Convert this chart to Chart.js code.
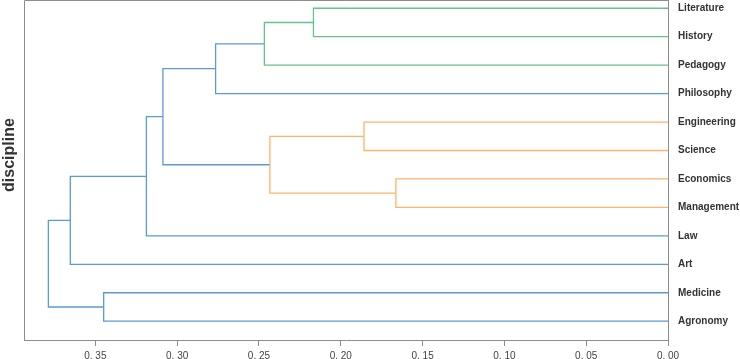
<!DOCTYPE html>
<html>
<head>
<meta charset="utf-8">
<script src="https://cdn.jsdelivr.net/npm/chart.js@4"></script>
<style>
html,body{margin:0;padding:0;background:#fff;}
#wrap{width:740px;height:359px;}
</style>
</head>
<body>
<div id="wrap"><canvas id="c" width="740" height="359"></canvas></div>
<script>
// Leaves, top to bottom
const leaves = ["Literature","History","Pedagogy","Philosophy","Engineering","Science","Economics","Management","Law","Art","Medicine","Agronomy"];
// Link positions along the leaf axis (scipy-style icoord, in leaf index units)
const icoord = [
  [0, 0, 1, 1],
  [0.5, 0.5, 2, 2],
  [1.25, 1.25, 3, 3],
  [4, 4, 5, 5],
  [6, 6, 7, 7],
  [4.5, 4.5, 6.5, 6.5],
  [2.125, 2.125, 5.5, 5.5],
  [3.8125, 3.8125, 8, 8],
  [5.90625, 5.90625, 9, 9],
  [10, 10, 11, 11],
  [7.453125, 7.453125, 10.5, 10.5]
];
// Link heights (distance)
const dcoord = [
  [0, 0.2167, 0.2167, 0],
  [0.2167, 0.2467, 0.2467, 0],
  [0.2467, 0.2765, 0.2765, 0],
  [0, 0.1858, 0.1858, 0],
  [0, 0.1663, 0.1663, 0],
  [0.1858, 0.2433, 0.2433, 0.1663],
  [0.2765, 0.3087, 0.3087, 0.2433],
  [0.3087, 0.3188, 0.3188, 0],
  [0.3188, 0.3653, 0.3653, 0],
  [0, 0.3449, 0.3449, 0],
  [0.3653, 0.3787, 0.3787, 0.3449]
];
const linkColors = ["green","green","blue","orange","orange","orange","blue","blue","blue","blue","blue"];
const xTicks = [0, 0.05, 0.10, 0.15, 0.20, 0.25, 0.30, 0.35];
const yTitle = "discipline";

const palette = {green: "#66c28c", orange: "#ffb466", blue: "#5b9bd5"};
const FONT = "'Liberation Sans', Arial, Helvetica, sans-serif";

const datasets = icoord.map((ys, i) => ({
  data: ys.map((y, j) => ({x: dcoord[i][j], y: y})),
  showLine: true,
  borderColor: palette[linkColors[i]],
  borderWidth: 1.3,
  pointRadius: 0,
  fill: false,
  tension: 0,
  clip: false,
  yAxisID: 'y'
}));

const framePlugin = {
  id: 'frame',
  afterDraw(chart) {
    const {ctx, chartArea: a} = chart;
    ctx.save();
    ctx.strokeStyle = '#8c8c8c';
    ctx.lineWidth = 1;
    ctx.beginPath();
    ctx.moveTo(a.left + 0.5, a.bottom);
    ctx.lineTo(a.left + 0.5, a.top + 0.5);
    ctx.lineTo(a.right, a.top + 0.5);
    ctx.stroke();
    // axis title
    ctx.translate(10, 155);
    ctx.rotate(-Math.PI / 2);
    ctx.fillStyle = '#333';
    ctx.font = "bold 16px " + FONT;
    ctx.textAlign = 'center';
    ctx.textBaseline = 'middle';
    ctx.fillText(yTitle, 0, 0);
    ctx.restore();
  }
};

new Chart(document.getElementById('c'), {
  type: 'scatter',
  data: {datasets},
  plugins: [framePlugin],
  options: {
    responsive: false,
    animation: false,
    layout: {padding: {left: 24, top: 0, right: 0, bottom: 0}},
    plugins: {legend: {display: false}, tooltip: {enabled: false}},
    scales: {
      x: {
        type: 'linear',
        reverse: true,
        min: 0,
        max: 0.3936,
        afterBuildTicks: s => { s.ticks = xTicks.map(v => ({value: v})); },
        afterFit: s => { s.height = 19; s.paddingLeft = 0; s.paddingRight = 0; },
        grid: {drawOnChartArea: false, drawTicks: true, tickLength: 6, color: '#8c8c8c'},
        border: {display: true, color: '#8c8c8c', width: 1},
        ticks: {
          color: '#444',
          font: {family: FONT, size: 10},
          padding: 4,
          maxRotation: 0,
          callback: v => v.toFixed(2).replace('.', '. ')
        }
      },
      y: {
        type: 'linear',
        position: 'right',
        reverse: true,
        min: -0.29,
        max: 11.66,
        afterBuildTicks: s => { s.ticks = leaves.map((_, i) => ({value: i})); },
        afterFit: s => { s.width = 72; s.paddingTop = 0; s.paddingBottom = 0; },
        grid: {display: false, drawTicks: false},
        border: {display: true, color: '#8c8c8c', width: 1},
        ticks: {
          color: '#333',
          font: {family: FONT, size: 10, weight: 'bold'},
          padding: 10,
          callback: v => leaves[v] ?? ''
        }
      }
    }
  }
});
</script>
</body>
</html>
